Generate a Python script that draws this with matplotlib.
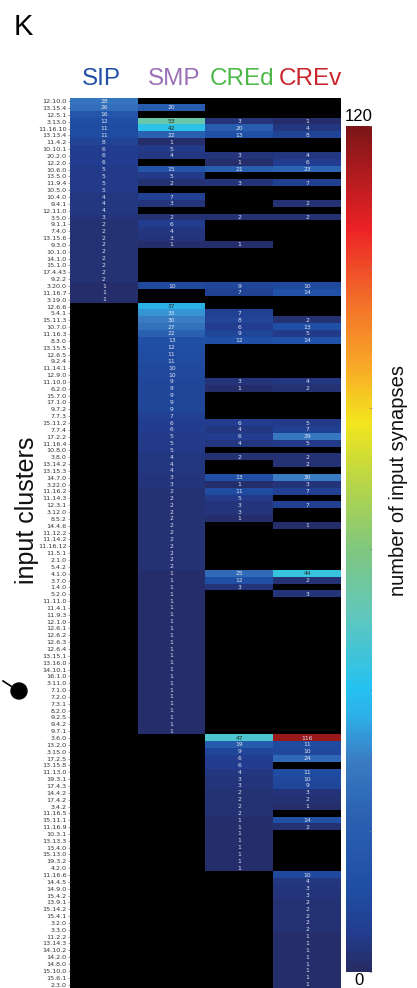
import matplotlib
matplotlib.use('Agg')
import matplotlib.pyplot as plt
import numpy as np
from matplotlib.colors import LinearSegmentedColormap
from matplotlib.lines import Line2D
from matplotlib.patches import Ellipse

labels = ['12.10.0', '13.15.4', '12.5.1', '3.13.0', '11.16.10', '13.13.4', '11.4.2', '10.10.1', '20.2.0', '12.2.0',
          '10.6.0', '13.5.0', '11.9.4', '10.5.0', '10.4.0', '9.4.1', '12.11.0', '3.5.0', '9.1.1', '7.4.0',
          '13.15.6', '9.3.0', '10.1.0', '14.1.0', '15.1.0', '17.4.43', '9.2.2', '3.20.0', '11.16.7', '3.19.0',
          '12.6.6', '5.4.1', '15.11.3', '10.7.0', '11.16.3', '8.3.0', '13.15.5', '12.6.5', '9.2.4', '11.14.1',
          '12.9.0', '11.10.0', '6.2.0', '15.7.0', '17.1.0', '9.7.2', '7.7.3', '15.11.2', '7.7.4', '17.2.2',
          '11.16.4', '10.8.0', '3.8.0', '13.14.2', '13.15.3', '14.7.0', '3.22.0', '11.16.2', '11.14.3', '12.3.1',
          '3.12.0', '8.5.2', '14.4.6', '11.12.2', '11.14.2', '11.16.12', '11.5.1', '2.1.0', '5.4.2', '4.1.0',
          '3.7.0', '1.4.0', '5.2.0', '11.11.0', '11.4.1', '11.9.3', '12.1.0', '12.6.1', '12.6.2', '12.6.3',
          '12.6.4', '13.15.1', '13.16.0', '14.10.1', '16.1.0', '3.11.0', '7.1.0', '7.2.0', '7.3.1', '8.2.0',
          '9.2.5', '9.4.2', '9.7.1', '3.6.0', '13.2.0', '3.15.0', '17.2.5', '13.15.8', '11.13.0', '19.3.1',
          '17.4.3', '14.4.2', '17.4.2', '3.4.2', '11.16.5', '15.11.1', '11.16.9', '10.3.1', '13.13.3', '13.4.0',
          '15.13.0', '19.3.2', '4.2.0', '11.16.6', '14.4.5', '14.9.0', '15.4.2', '13.9.1', '15.14.2', '15.4.1',
          '3.2.0', '3.3.0', '11.2.2', '13.14.3', '14.10.2', '14.2.0', '14.8.0', '15.10.0', '15.6.1', '2.3.0']

regions = ['SIP', 'SMP', 'CREd', 'CREv']
region_colors = ['#2150a6', '#9a70b6', '#4cb848', '#c8262c']

sip = [28, 26, 16, 12, 11, 11, 8, 6, 6, 6, 5, 5, 5, 5, 4, 4, 4, 3, 2, 2,
       2, 2, 2, 2, 2, 2, 2, 1, 1, 1] + [0] * 100

smp = ([0, 20, 0, 53, 42, 22, 1, 5, 4, 0, 15, 5, 2, 0, 7, 3, 0, 2, 6, 4,
        3, 1, 0, 0, 0, 0, 0, 10, 0, 0,
        37, 33, 30, 27, 22, 13, 12, 11, 11, 10,
        10, 9, 9, 9, 9, 9, 7, 6, 6, 5,
        5, 5, 4, 4, 4, 3, 3, 2, 2, 2,
        2, 2, 2, 2, 2, 2, 2, 2, 2, 1]
       + [1] * 23 + [0] * 37)

cred = ([0, 0, 0, 3, 20, 13, 0, 0, 3, 1,
         21, 0, 3, 0, 0, 0, 0, 2, 0, 0,
         0, 1, 0, 0, 0, 0, 0, 9, 7, 0,
         0, 7, 8, 6, 9, 12, 0, 0, 0, 0,
         0, 3, 1, 0, 0, 0, 0, 6, 4, 6,
         4, 0, 2, 0, 0, 13, 1, 11, 5, 3,
         3, 1, 0, 0, 0, 0, 0, 0, 0, 25,
         12, 3, 0, 0, 0, 0, 0, 0, 0, 0]
        + [0] * 10
        + [0, 0, 0, 47, 19, 9, 6, 6, 4, 3,
           3, 2, 2, 2, 2, 1, 1, 1, 1, 1,
           1, 1, 1, 0, 0, 0, 0, 0, 0, 0]
        + [0] * 10)

crev = ([0, 0, 0, 1, 4, 8, 0, 0, 4, 6,
         23, 0, 7, 0, 0, 2, 0, 2, 0, 0,
         0, 0, 0, 0, 0, 0, 0, 10, 14, 0,
         0, 0, 2, 13, 5, 14, 0, 0, 0, 0,
         0, 4, 2, 0, 0, 0, 0, 5, 7, 29,
         5, 0, 2, 2, 0, 30, 3, 7, 0, 7,
         0, 0, 1, 0, 0, 0, 0, 0, 0, 44,
         2, 0, 3, 0, 0, 0, 0, 0, 0, 0]
        + [0] * 10
        + [0, 0, 0, 116, 11, 10, 24, 0, 11, 10,
           9, 3, 2, 1, 0, 14, 2, 0, 0, 0,
           0, 0, 0, 10, 4, 3, 3, 2, 2, 2,
           2, 2, 1, 1, 1, 1, 1, 1, 1, 1])

data = np.array([sip, smp, cred, crev], dtype=float).T
masked = np.ma.masked_equal(data, 0)

# rainbow-ish colormap
stops = [(0.0, '#262b63'), (0.045, '#233d8f'), (0.10, '#1f4fa5'), (0.18, '#2a60b1'),
         (0.25, '#3a7cc4'), (0.30, '#2eaee6'), (0.335, '#24c2f1'), (0.42, '#5fc7bd'),
         (0.50, '#80c77e'), (0.58, '#b8d646'), (0.65, '#f2e61d'), (0.72, '#f9a627'),
         (0.80, '#f26a2a'), (0.88, '#ec2226'), (1.0, '#7c1517')]
cmap = LinearSegmentedColormap.from_list('syn', stops)
cmap.set_bad('black')

plt.rcParams['font.family'] = ['Liberation Sans', 'DejaVu Sans']
fig = plt.figure(figsize=(4.17, 9.88), dpi=100)
W, H = 417, 988

ax = fig.add_axes([70 / W, 0.0, (341 - 70) / W, (988 - 97.7) / H])
im = ax.imshow(masked, cmap=cmap, vmin=0, vmax=120, aspect='auto', interpolation='nearest')
ax.set_xticks([])
ax.set_yticks(np.arange(len(labels)))
ax.set_yticklabels(labels, fontsize=4.6, family='DejaVu Sans', color='#333333')
ax.tick_params(axis='y', length=1.5, width=0.4, pad=1, colors='#555555', labelcolor='#333333')
for s in ax.spines.values():
    s.set_visible(False)

for i in range(data.shape[0]):
    for j in range(data.shape[1]):
        v = data[i, j]
        if v > 0:
            c = '#2a2a2a' if 35 <= v <= 60 else '#dfe4f2'
            ax.text(j, i, str(int(v)), ha='center', va='center', fontsize=4.3,
                    family='DejaVu Sans', color=c)

# column headers
for j, (name, col) in enumerate(zip(regions, region_colors)):
    xc = [101, 174, 242, 310][j]
    fig.text(xc / W, 1 - 85 / H, name, ha='center', va='baseline', fontsize=17.5, color=col)

fig.text(14 / W, 1 - 35 / H, 'K', ha='left', va='baseline', fontsize=21, color='black')
fig.text(27 / W, 1 - 510 / H, 'input clusters', rotation=90, ha='center', va='center',
         fontsize=18, color='#111111')

# colorbar
cax = fig.add_axes([346 / W, 1 - 972 / H, 26 / W, (972 - 126) / H])
cb = fig.colorbar(im, cax=cax, ticks=np.arange(0, 121, 20))
cb.outline.set_visible(False)
cax.tick_params(length=2, width=0.4, direction='in', labelright=False, colors='#888888')
fig.text(359 / W, 1 - 121 / H, '120', ha='center', va='baseline', fontsize=12)
fig.text(359 / W, 1 - 985 / H, '0', ha='center', va='baseline', fontsize=12)
fig.text(398 / W, 1 - 480 / H, 'number of input synapses', rotation=90, ha='center',
         va='center', fontsize=14.5, color='#111111')

# small pointer marker next to the rows
fig.add_artist(Line2D([3 / W, 17 / W], [1 - 681 / H, 1 - 690 / H], color='black', lw=1.2))
fig.add_artist(Ellipse((19 / W, 1 - 691 / H), 16 / W, 16 / H, color='black',
                       transform=fig.transFigure))

fig.savefig('out.png', dpi=100)
